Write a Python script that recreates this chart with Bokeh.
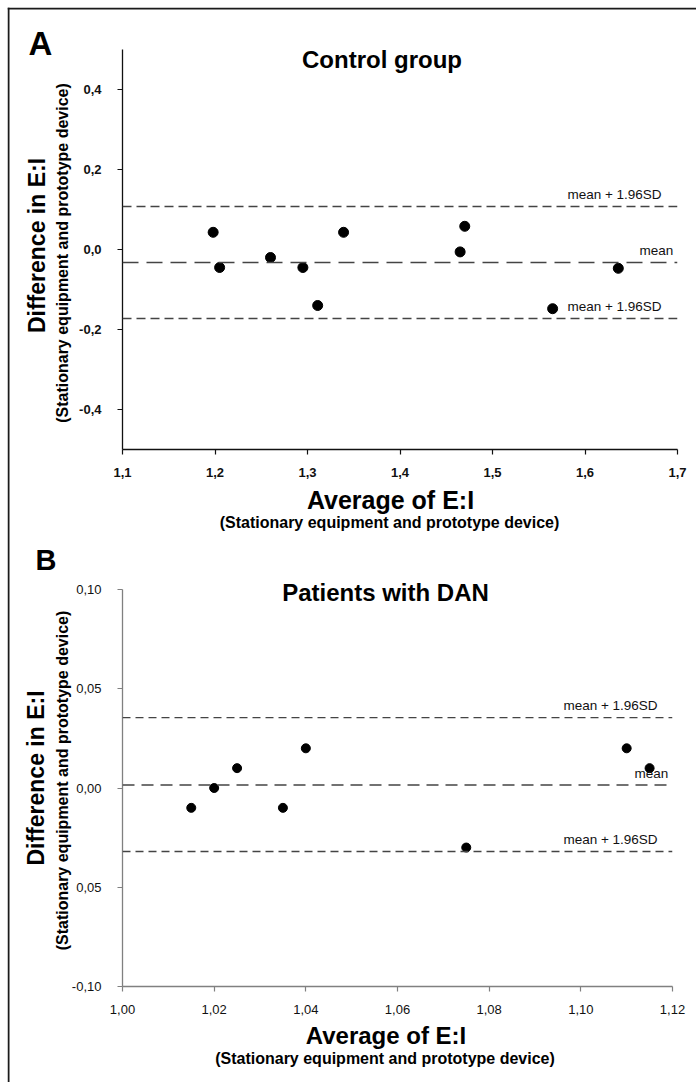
import math
from bokeh.plotting import figure
from bokeh.models import Range1d, FixedTicker, Span, Label
from bokeh.embed import file_html
from bokeh.resources import INLINE

# ---------------- data ----------------
# Panel A: Control group
a_avg = [1.198, 1.205, 1.260, 1.295, 1.311, 1.339, 1.465, 1.470, 1.565, 1.636]
a_diff = [0.043, -0.045, -0.020, -0.045, -0.140, 0.043, -0.006, 0.058, -0.148, -0.047]
a_limits = [0.1075, -0.0325, -0.1725]          # upper, mean, lower
a_limit_labels = ["mean + 1.96SD", "mean", "mean + 1.96SD"]
a_xticks = [1.1, 1.2, 1.3, 1.4, 1.5, 1.6, 1.7]
a_xtick_labels = ["1,1", "1,2", "1,3", "1,4", "1,5", "1,6", "1,7"]
a_yticks = [-0.4, -0.2, 0.0, 0.2, 0.4]
a_ytick_labels = ["-0,4", "-0,2", "0,0", "0,2", "0,4"]

# Panel B: Patients with DAN
b_avg = [1.015, 1.020, 1.025, 1.035, 1.040, 1.075, 1.110, 1.115]
b_diff = [-0.010, 0.000, 0.010, -0.010, 0.020, -0.030, 0.020, 0.010]
b_limits = [0.0355, 0.0015, -0.032]
b_limit_labels = ["mean + 1.96SD", "mean", "mean + 1.96SD"]
b_xticks = [1.00, 1.02, 1.04, 1.06, 1.08, 1.10, 1.12]
b_xtick_labels = ["1,00", "1,02", "1,04", "1,06", "1,08", "1,10", "1,12"]
b_yticks = [-0.10, -0.05, 0.0, 0.05, 0.10]
b_ytick_labels = ["-0,10", "0,05", "0,00", "0,05", "0,10"]

FONT = "Liberation Sans"
YLAB = "Difference in E:I"
XLAB = "Average of E:I"
SUB = "(Stationary equipment and prototype device)"

W = 678
TOP_H = 521
BOT_H = 545


def make_panel(xs, ys, limits, limit_labels, xr, yr, xticks, xlabels, yticks, ylabels,
               height, min_top, min_bottom, frame_w, tick_bold, axis_color, dot_size,
               dash_limits, dash_mean, label_x, mean_label_x, left, top):
    p = figure(width=W, height=height, x_range=Range1d(*xr), y_range=Range1d(*yr),
               output_backend="svg", toolbar_location=None,
               min_border_left=113, min_border_right=W - 113 - frame_w,
               min_border_top=min_top, min_border_bottom=min_bottom,
               styles={"position": "absolute", "left": f"{left}px", "top": f"{top}px"})
    p.outline_line_color = None
    p.grid.visible = False
    p.background_fill_color = "white"
    p.border_fill_color = "white"

    for ax, ticks, labels in ((p.xaxis[0], xticks, xlabels), (p.yaxis[0], yticks, ylabels)):
        ax.ticker = FixedTicker(ticks=ticks)
        ax.major_label_overrides = dict(zip(ticks, labels))
        ax.minor_tick_line_color = None
        ax.major_tick_out = 5
        ax.major_tick_in = 0
        ax.axis_line_color = axis_color
        ax.major_tick_line_color = axis_color
        ax.axis_line_width = 1.3
        ax.major_tick_line_width = 1.2
        ax.major_label_text_font = FONT
        ax.major_label_text_font_size = "13px"
        ax.major_label_text_font_style = "bold" if tick_bold else "normal"
        ax.major_label_text_color = "#111111"
    p.xaxis.major_label_standoff = 13
    p.yaxis.major_label_standoff = 16

    # limit lines and their labels
    for i, lv in enumerate(limits):
        dash = dash_mean if i == 1 else dash_limits
        p.add_layout(Span(location=lv, dimension="width", line_color="#444444",
                          line_width=1.3, line_dash=dash))
        lx = mean_label_x if i == 1 else label_x
        p.add_layout(Label(x=lx, y=lv, y_offset=12, text=limit_labels[i],
                           text_font=FONT, text_font_size="13.5px", text_color="#111111",
                           text_align="left", text_baseline="middle"))

    p.scatter(xs, ys, size=dot_size, fill_color="black", line_color="black")
    return p


pa = make_panel(a_avg, a_diff, a_limits, a_limit_labels, (1.1, 1.7), (-0.5, 0.5),
                a_xticks, a_xtick_labels, a_yticks, a_ytick_labels,
                height=TOP_H, min_top=40, min_bottom=81, frame_w=555, tick_bold=True,
                axis_color="#111111", dot_size=10, dash_limits="9 5", dash_mean="16 8",
                label_x=1.581, mean_label_x=1.659, left=9, top=9)

pb = make_panel(b_avg, b_diff, b_limits, b_limit_labels, (1.00, 1.12), (-0.10, 0.10),
                b_xticks, b_xtick_labels, b_yticks, b_ytick_labels,
                height=BOT_H, min_top=59, min_bottom=89, frame_w=550, tick_bold=False,
                axis_color="#808080", dot_size=9, dash_limits="8 5", dash_mean="12 7",
                label_x=1.0962, mean_label_x=1.1117, left=9, top=9 + TOP_H)

# transparent overlay (1 unit = 1 px, y downward, origin at page (7,7)) holding the
# page frame, panel letters, titles and axis titles
OV_W, OV_H = 689, 1075
ov = figure(width=OV_W, height=OV_H, x_range=Range1d(0, OV_W), y_range=Range1d(OV_H, 0),
            output_backend="svg", toolbar_location=None,
            x_axis_location=None, y_axis_location=None, min_border=0,
            styles={"position": "absolute", "left": "7px", "top": "7px"})
ov.outline_line_color = None
ov.grid.visible = False
ov.background_fill_alpha = 0
ov.border_fill_alpha = 0

ov.add_layout(Span(location=1.0, dimension="height", line_color="#1a1a1a", line_width=2))
ov.add_layout(Span(location=1.0, dimension="width", line_color="#1a1a1a", line_width=2))

OX, OY = 2, 2   # overlay origin is 2 px left/up of the panels' origin
overlay_texts = [
    # text, x, y, size, angle, align
    ("A", 19.0, 33.5, "33px", 0.0, "left"),
    ("Control group", 372.5, 49.7, "24px", 0.0, "center"),
    (YLAB, 27.7, 236.0, "23px", math.pi / 2, "center"),
    (SUB, 52.7, 243.5, "16px", math.pi / 2, "center"),
    (XLAB, 381.0, 490.0, "25px", 0.0, "center"),
    (SUB, 380.0, 513.0, "16px", 0.0, "center"),
    ("B", 26.0, 550.5, "29px", 0.0, "left"),
    ("Patients with DAN", 376.0, 582.5, "24px", 0.0, "center"),
    (YLAB, 26.8, 768.5, "23px", math.pi / 2, "center"),
    (SUB, 52.7, 771.0, "16px", math.pi / 2, "center"),
    (XLAB, 376.5, 1025.5, "24px", 0.0, "center"),
    (SUB, 375.5, 1049.0, "16px", 0.0, "center"),
]
for t, x, y, fs, ang, al in overlay_texts:
    ov.add_layout(Label(x=x + OX, y=y + OY, text=t, angle=ang, text_font=FONT,
                        text_font_size=fs, text_font_style="bold", text_align=al,
                        text_baseline="middle", text_color="black"))

open("out.html", "w").write(file_html([pa, pb, ov], INLINE))
